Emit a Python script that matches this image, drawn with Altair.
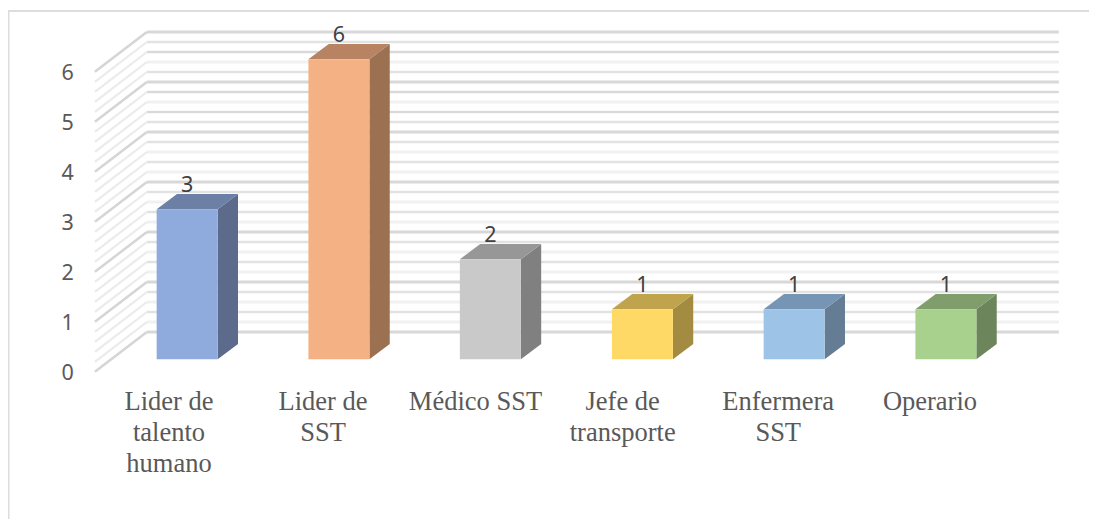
import altair as alt
import pandas as pd

# ---- chart values -------------------------------------------------------
categories = ["Lider de talento humano", "Lider de SST", "Médico SST",
              "Jefe de transporte", "Enfermera SST", "Operario"]
values = [3, 6, 2, 1, 1, 1]
front_colors = ["#8FAADC", "#F4B183", "#C9C9C9", "#FFD966", "#9DC3E6", "#A9D18E"]
side_colors = ["#5C6B8B", "#9C7152", "#808080", "#A38B42", "#647D94", "#6C855A"]
top_colors = ["#6C80A6", "#B78362", "#979797", "#BFA34D", "#7695B4", "#7F9E6B"]
bar_centres = [0.0, 1.0, 1.998, 3.0, 4.0, 5.0]
label_lines = [["Lider de", "talento", "humano"], ["Lider de", "SST"], ["Médico SST"],
               ["Jefe de", "transporte"], ["Enfermera", "SST"], ["Operario"]]
label_centres = [-0.12, 0.895, 1.9, 2.87, 3.895, 4.895]
tick_values = [0, 1, 2, 3, 4, 5, 6]
grid_values = [6.0, 5.8, 5.6, 5.4, 5.2, 5.0, 4.8, 4.6, 4.4, 4.2, 4.0, 3.8, 3.6, 3.4, 3.2, 3.0,
               2.8, 2.6, 2.4, 2.2, 2.0, 1.8, 1.6, 1.4, 1.2, 1.0, 0.8, 0.6, 0.4, 0.2, 0.0]
grid_kinds = ["major", "med", "dark", "light", "med",
              "major", "dark", "light", "dark", "med",
              "major", "med", "light", "med", "light",
              "major", "med", "light", "med", "light",
              "major", "med", "light", "med", "light",
              "major", "med", "light", "med", "light",
              "major"]

# scale geometry, in data units
X_DOMAIN = [-1.1807, 5.9430]
Y_DOMAIN = [-3.194, 7.026]
BAR_W, DEPTH, RISE = 0.402, 0.134, 0.306
WALL_FRONT_X, WALL_BACK_X, GRID_END_X = -0.608, -0.2656, 5.744
WALL_FRONT_DY, WALL_BACK_DY = -0.25, 0.546

x_s = alt.Scale(domain=X_DOMAIN, nice=False, zero=False)
y_s = alt.Scale(domain=Y_DOMAIN, nice=False, zero=False)
X = lambda f="x": alt.X(f"{f}:Q", scale=x_s, axis=None)
Y = lambda f="y": alt.Y(f"{f}:Q", scale=y_s, axis=None, stack=None)

# ---- tables ---------------------------------------------------------------
grid = pd.DataFrame({"v": grid_values, "kind": grid_kinds})
grid["y"] = grid.v + WALL_BACK_DY
grid["x"] = WALL_BACK_X
grid["x2"] = GRID_END_X
grid["wx"] = WALL_FRONT_X
grid["wy"] = grid.v + WALL_FRONT_DY

front, side, top = [], [], []
for c, v, m in zip(categories, values, bar_centres):
    a, b = m - BAR_W / 2, m + BAR_W / 2
    front.append(dict(cat=c, x=a, x2=b, y=0, y2=v))
    side += [dict(cat=c, x=b, y=0, y2=v), dict(cat=c, x=b + DEPTH, y=RISE, y2=v + RISE)]
    top += [dict(cat=c, x=a, y=v, y2=v), dict(cat=c, x=a + DEPTH, y=v, y2=v + RISE),
            dict(cat=c, x=b, y=v, y2=v + RISE), dict(cat=c, x=b + DEPTH, y=v + RISE, y2=v + RISE)]
front, side, top = pd.DataFrame(front), pd.DataFrame(side), pd.DataFrame(top)

bar_labels = pd.DataFrame({"x": bar_centres, "y": [v + 0.47 for v in values], "t": values})
ticks = pd.DataFrame({"x": [-0.788] * 7, "y": [t + WALL_FRONT_DY - 0.04 for t in tick_values], "t": tick_values})
rows = []
for lines, c in zip(label_lines, label_centres):
    for n, s in enumerate(lines):
        rows.append(dict(x=c, y=-1.014 - 0.62 * n, t=s))
cat_labels = pd.DataFrame(rows)
border_h = pd.DataFrame({"x": [X_DOMAIN[0]], "x2": [X_DOMAIN[1]], "y": [6.966]})
border_v = pd.DataFrame({"x": [X_DOMAIN[0]], "y": [6.966], "y2": [Y_DOMAIN[0]]})


def back_rule(kinds, color, width):
    return alt.Chart(grid[grid.kind.isin(kinds)]).mark_rule(color=color, strokeWidth=width).encode(
        x=X(), x2="x2:Q", y=Y())


def wall_rule(kinds, color, width):
    return alt.Chart(grid[grid.kind.isin(kinds)]).mark_rule(color=color, strokeWidth=width).encode(
        x=X("wx"), x2="x:Q", y=Y("wy"), y2="y:Q")


def face(df, colors):
    return alt.Chart(df).mark_area(opacity=1, interpolate="linear").encode(
        x=X(), y=Y(), y2="y2:Q",
        color=alt.Color("cat:N", scale=alt.Scale(domain=categories, range=colors), legend=None),
        detail="cat:N")


layers = [
    alt.Chart(border_h).mark_rule(color="#DDDDDD", strokeWidth=2).encode(x=X(), x2="x2:Q", y=Y()),
    alt.Chart(border_v).mark_rule(color="#DDDDDD", strokeWidth=3).encode(x=X(), y=Y(), y2="y2:Q"),
    back_rule(["light", "med", "dark"], "#F1F1F1", 3),
    back_rule(["major"], "#D8D8D8", 3),
    back_rule(["med"], "#D4D4D4", 1.2),
    back_rule(["dark"], "#C2C2C2", 1.2),
    wall_rule(["light", "med", "dark"], "#EBEBEB", 2.2),
    wall_rule(["major"], "#D5D5D5", 2.5),
    face(side, side_colors),
    face(top, top_colors),
    alt.Chart(front).mark_rect(opacity=1).encode(
        x=X(), x2="x2:Q", y=Y(), y2="y2:Q",
        color=alt.Color("cat:N", scale=alt.Scale(domain=categories, range=front_colors), legend=None)),
    alt.Chart(bar_labels).mark_text(font="Noto Sans", fontSize=21.5, color="#404040", baseline="middle").encode(
        x=X(), y=Y(), text="t:Q"),
    alt.Chart(ticks).mark_text(font="Noto Sans", fontSize=21.5, color="#595959", baseline="middle").encode(
        x=X(), y=Y(), text="t:Q"),
    alt.Chart(cat_labels).mark_text(font="Liberation Serif", fontSize=26.5, color="#595959", baseline="alphabetic").encode(
        x=X(), y=Y(), text="t:N"),
]

chart = alt.layer(*layers).resolve_scale(color="independent").properties(
    width=1081, height=511, padding=0, autosize=alt.AutoSizeParams(type="none"),
).configure_view(stroke=None)

chart.save("out.html", embed_options={"renderer": "svg", "actions": False})
